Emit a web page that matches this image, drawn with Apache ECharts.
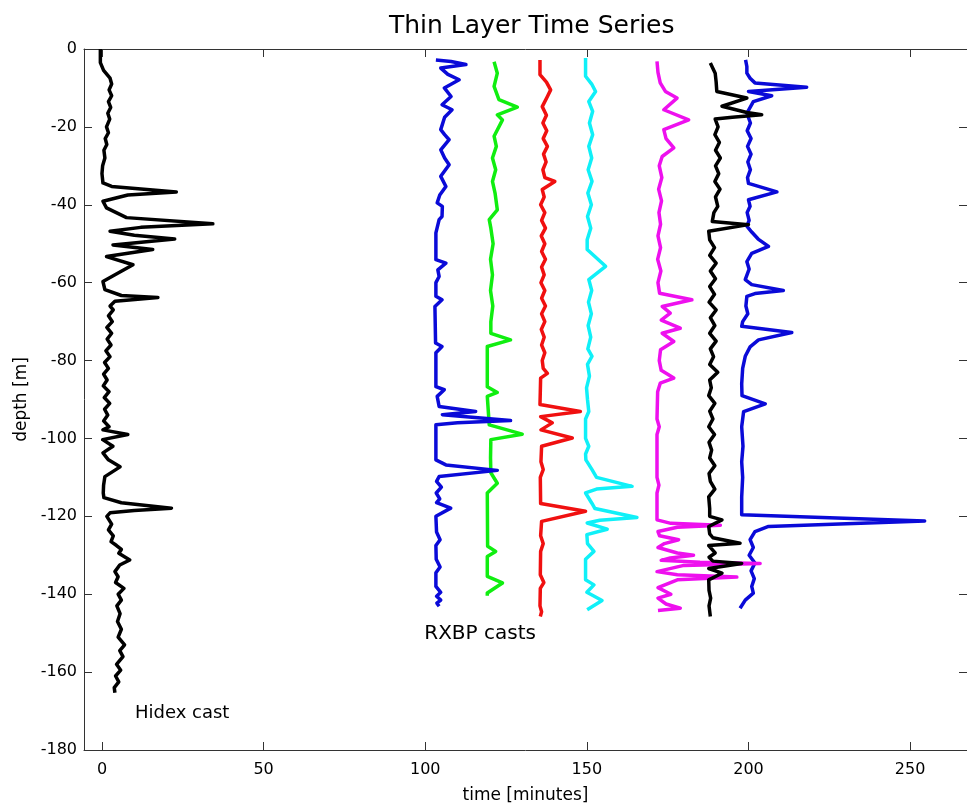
<!DOCTYPE html>
<html>
<head>
    <meta charset="utf-8">
    <title>Thin Layer Time Series</title>
    <script src="https://cdn.jsdelivr.net/npm/echarts@6/dist/echarts.min.js"></script>
    <style>
        html, body { margin: 0; padding: 0; background: #fff; }
        #main { width: 967px; height: 810px; }
    </style>
</head>
<body>
    <div id="main"></div>
    <script>
        // tick labels
        var timeTicks = [0, 50, 100, 150, 200, 250];

        // each cast: [time, depth]
        var hidexCast = [[-0.5,0],[-0.5,-3.5],[0.5,-5.5],[2.5,-7.5],[3.0,-9],[2.2,-10.5],[3.0,-12],[2.0,-13.5],[2.7,-15],[1.8,-16.5],[2.4,-18],[1.4,-20],[2.0,-21.5],[1.0,-23],[1.5,-24.5],[0.6,-26],[0.9,-28],[0.2,-30],[0.0,-32],[0.3,-34.4],[3,-35.3],[23,-36.7],[8,-37.5],[0.3,-39.1],[1.4,-40.8],[7.6,-43.3],[34.3,-44.9],[12,-45.8],[2.5,-46.8],[10,-47.8],[22.5,-48.8],[3.4,-50.3],[15.7,-51.5],[1.4,-53.3],[9.6,-55.4],[5,-57.5],[0.3,-59.7],[0.9,-61.8],[6,-63.3],[17.3,-63.8],[4,-64.8],[2.5,-66],[3.5,-67],[2,-68.5],[3.2,-70],[1.5,-71.5],[3,-73],[1.6,-74.5],[2.8,-76],[1.2,-77.5],[2.5,-79],[0.8,-80.5],[2,-82],[0.5,-83.5],[1.6,-85],[0.4,-86.5],[2.2,-88],[0.7,-89.5],[2.4,-91],[0.8,-92.5],[1.8,-94],[0.5,-95.5],[2.2,-97],[0.3,-97.8],[8,-99],[0.2,-100.3],[3.4,-102],[0.3,-103.7],[2,-105.5],[5.6,-107.3],[0.9,-109.8],[0.5,-112],[0.4,-114],[0.6,-115.2],[6,-116.5],[21.5,-117.9],[10,-118.5],[2.5,-119.1],[1.5,-120],[3,-122],[2,-123.5],[3.5,-125],[2.8,-126.5],[4.5,-127.5],[6,-128.5],[5.2,-129.5],[8.6,-131.2],[5.5,-132.5],[4,-134.2],[5,-135.5],[4.2,-137],[6.8,-138.5],[5,-140],[6,-141.5],[4.6,-143],[5.6,-145],[4.8,-147],[6,-149],[5,-151],[7,-153],[5.5,-154.5],[6.5,-156],[4.5,-158],[5.8,-159.5],[4.2,-161],[5.2,-162.5],[3.8,-164],[4,-165.3]];

        var rxbpBlue1 = [[103.3,-2.8],[108,-3.2],[112.6,-4],[104.8,-4.9],[107,-6.5],[110.5,-7.9],[105.9,-10],[108,-12.2],[105.2,-14.3],[108.3,-15.6],[106,-17.5],[104.8,-20.7],[106,-22],[107.4,-23.3],[104.8,-25.9],[106,-28],[107.4,-29.7],[104.8,-32.7],[106.4,-35.3],[104.5,-37.5],[103.7,-39.5],[105.3,-40.4],[105.2,-43],[104.3,-43.8],[103.3,-47.2],[103.3,-54.1],[106.4,-55],[103.9,-56.7],[104.3,-58.4],[103.3,-60],[103.3,-63.5],[105.2,-64.4],[103,-66.1],[103.2,-75.5],[105.2,-76.4],[103.3,-78],[103.3,-86.7],[105.9,-87.5],[103.7,-89.2],[104.3,-91.8],[115.6,-93.1],[105.3,-93.9],[126.4,-95.4],[110,-96],[103.3,-96.5],[103.3,-105.5],[106.4,-106.8],[122.3,-108.2],[104.3,-109.8],[103.5,-111],[105,-112.5],[103.4,-114],[104.5,-115.5],[103.5,-116.5],[107.9,-117.9],[103.3,-120],[103.5,-124],[104.6,-126],[103.3,-127.5],[103.4,-131],[104.6,-133],[103.3,-134.5],[103.3,-138],[104.8,-139.5],[103.5,-140.5],[104.8,-141.5],[103.6,-142.3],[104.3,-143.1]];

        var rxbpGreen = [[121.3,-3.3],[122.3,-6.2],[121.3,-9.6],[122.8,-13],[128.5,-14.9],[122.3,-16.9],[123.9,-18.2],[121.3,-22.4],[122,-25],[120.8,-28],[121.8,-31],[120.8,-34],[121.6,-37],[122.3,-41.3],[119.8,-43.8],[120.3,-46],[121,-50],[120.2,-54],[120.8,-58],[120.2,-62],[120.9,-66],[120.3,-70],[120.3,-73],[126.4,-74.7],[119.2,-76.4],[119.2,-86.7],[122.3,-88.2],[119.2,-89.2],[119.8,-96.5],[130,-98.9],[120.3,-100.3],[120.2,-105],[120.3,-108.8],[122.3,-111.5],[119.2,-114],[119.3,-127.7],[121.8,-129],[119.2,-130.3],[119.2,-135.4],[123.9,-137.1],[119.2,-139.7],[119.2,-140.4]];

        var rxbpRed = [[135.5,-2.8],[135.5,-6.6],[137.5,-8.5],[138.8,-10.5],[137.8,-12.2],[136.2,-14.8],[137.5,-17],[136.4,-19],[137.6,-21],[136.5,-23],[137.8,-25],[136.6,-27],[137.4,-29],[136.4,-31],[137,-33],[140.1,-34],[136.2,-36.1],[136.8,-38],[135.7,-40],[137,-42],[136,-44],[137.2,-46],[135.9,-48],[137,-50],[136,-52],[137.2,-54],[136,-56],[136.8,-58],[135.8,-60],[137,-62],[136,-64],[137.2,-66],[136,-68],[137,-70],[135.9,-72],[136.8,-74],[136,-76],[137,-78],[136.2,-80],[136.5,-82],[137.8,-83.3],[135.7,-84.5],[135.6,-88],[135.5,-91.3],[148,-93.1],[135.7,-94.4],[139.3,-96],[135.8,-97.8],[145.5,-99.9],[136,-102],[135.8,-106],[136.5,-108],[135.6,-110],[135.7,-116.7],[149.6,-118.7],[136,-121.3],[135.7,-125],[136.5,-127],[135.7,-129],[135.6,-135],[136.7,-137],[135.6,-138.5],[135.5,-143],[136,-144.5],[135.6,-145.7]];

        var rxbpCyan = [[149.6,-2.3],[149.6,-7],[151.5,-9],[152.7,-10.9],[150.6,-13.5],[151.8,-16],[150.8,-19],[151.8,-22],[150.6,-25],[151.5,-28],[150.4,-31],[151.6,-34],[150.3,-37],[151.4,-40],[150.2,-43],[151.2,-46],[150.1,-49],[150.1,-51.5],[155.8,-55.8],[150.6,-59.2],[151.5,-62],[150.5,-65],[151.4,-68],[150.4,-71],[151.2,-74],[150.3,-77],[151.6,-78.9],[150.2,-81],[150.8,-84],[149.9,-87],[150.2,-90],[150.6,-93.1],[149.6,-95],[149.6,-100],[150.6,-102],[149.6,-104],[149.7,-105.5],[151.6,-108],[153,-110],[164,-112.3],[153,-113],[149.6,-114],[151.6,-116.7],[152.5,-118],[165.5,-120.3],[154,-121],[150.1,-121.7],[156.3,-123.3],[150,-124.7],[150.2,-127],[152.2,-129],[149.6,-131],[149.6,-136.3],[152.2,-137.6],[150,-139.5],[154.7,-141.6],[150.1,-144]];

        var rxbpMagenta = [[171.7,-3.2],[172,-6],[172.7,-8.7],[174.3,-10.9],[177.9,-12.6],[173.8,-15.6],[181.5,-18.2],[173.8,-20.7],[174.5,-23],[176.9,-25.4],[173.3,-27.6],[172.4,-30],[173.2,-33],[172.2,-36],[173.1,-39],[172.3,-42],[172.8,-45],[172,-48],[172.8,-51],[171.9,-54],[172.9,-57],[172,-60],[172.5,-62.7],[182.5,-64.4],[173.3,-66.1],[175.8,-67.8],[173,-69.6],[178.9,-71.7],[173.3,-73],[176.9,-75.1],[172.8,-77.2],[172.4,-80],[173,-82.5],[176.9,-84.5],[172.7,-85.8],[171.9,-88],[171.7,-95],[172.4,-97],[171.7,-99],[171.7,-110],[172.3,-112],[171.7,-114],[171.7,-120.9],[176,-121.8],[191.3,-122.3],[178,-122.8],[172,-123.9],[172.5,-125],[178.4,-126],[174,-127],[172,-128],[178,-129.4],[183,-130],[175.8,-130.7],[173,-131.3],[185,-131.8],[203.6,-132.1],[180,-132.6],[171.7,-134.2],[178,-135],[196.4,-135.6],[178,-136.3],[172,-138.3],[176,-140],[172,-141],[174.5,-142.5],[178.9,-143.6],[172,-144.2]];

        var rxbpBlack = [[188.2,-3.6],[189.7,-6.2],[190,-8.5],[190.2,-10.9],[199.5,-12.6],[191.8,-14.7],[199.5,-16.3],[204.1,-16.9],[195,-17.5],[189.7,-18],[190.6,-20],[189.6,-22],[191,-24],[189.8,-26],[191.3,-28],[189.8,-30],[190.8,-32],[189.6,-34],[191.2,-36],[189.8,-38],[190.5,-40.4],[189.3,-42],[188.8,-44.3],[200,-45.1],[187.7,-46.8],[188,-49],[189.5,-51],[188,-53],[190,-55],[188.2,-57],[189.8,-59],[188,-61],[189.5,-63],[187.8,-65],[190,-67],[188.2,-69],[189.6,-71],[188,-73],[190,-75],[188.2,-77],[189.2,-79],[188,-81],[190.5,-83],[188,-85],[188.5,-87],[187.7,-89],[189.6,-91],[188,-93],[189,-95],[187.7,-97],[189.5,-99],[187.8,-101],[188.6,-103],[188,-105],[189.6,-107],[187.8,-109],[188.2,-111],[189.6,-113],[187.7,-115],[188,-118],[188,-120],[191.8,-120.9],[187.7,-122.6],[188,-124.5],[189,-125.5],[197.4,-126.9],[187.7,-127.5],[189.7,-129.4],[187.8,-130.5],[189,-131.5],[197.9,-132.1],[187.7,-133.4],[191.8,-134.6],[187.7,-136.3],[187.8,-139],[188.3,-141],[187.8,-143],[188.2,-145.7]];

        var rxbpBlue2 = [[199.1,-2.8],[199.5,-4.5],[199.5,-6.2],[200.5,-7.5],[202,-8.7],[218,-9.8],[200,-10.9],[207.2,-12],[201.5,-13.5],[199.5,-16.5],[200.6,-19],[199.6,-21],[200.8,-23],[199.7,-25],[200.8,-27],[199.8,-29],[200.6,-31],[199.7,-33],[200,-34.5],[208.8,-36.7],[200,-38.7],[200.5,-40.4],[199.6,-42],[200.2,-44],[199.5,-45.5],[201,-47],[203,-48.8],[206.2,-50.7],[201,-52.5],[199.5,-54.6],[200.2,-56.5],[199,-59.2],[201,-60.5],[210.8,-62],[202,-62.8],[199.5,-63.5],[199.2,-66],[199.8,-68],[198.2,-70],[197.9,-71.2],[213.4,-72.8],[203.1,-74.7],[200.5,-76.5],[199,-78.9],[198.2,-82],[197.9,-86],[198,-89],[205.2,-91.1],[198.5,-93.1],[197.9,-97],[198.3,-102],[197.9,-106],[198.2,-110],[197.9,-115],[197.9,-119.6],[254.5,-121.2],[206.2,-122.6],[202,-123.9],[200.5,-126],[201.5,-128],[200.2,-130],[202,-132],[200.8,-134],[201.8,-136],[201,-138],[201.5,-139.7],[199,-141.5],[197.4,-143.6]];

        // annotations: [time, depth, text]
        var notes = [[10.2, -170.5, 'Hidex cast'], [99.7, -150.2, 'RXBP casts']];

        var font = 'DejaVu Sans';
        var chart = echarts.init(document.getElementById('main'), null, {renderer: 'canvas'});

        function cast(data, color) {
            return {
                type: 'line',
                data: data,
                showSymbol: false,
                symbol: 'none',
                silent: true,
                lineStyle: {color: color, width: 3.5, join: 'round'}
            };
        }

        var frameLine = {show: true, onZero: false, lineStyle: {color: '#333', width: 1}};

        var option = {
            animation: false,
            backgroundColor: '#fff',
            title: {
                text: 'Thin Layer Time Series',
                left: 384,
                top: 9,
                textStyle: {fontFamily: font, fontSize: 25, fontWeight: 'normal', color: '#000'}
            },
            grid: {left: 84, top: 49, width: 885, height: 701, show: false},
            xAxis: [{
                type: 'value',
                min: -5.56,
                max: 267.6,
                position: 'bottom',
                name: 'time [minutes]',
                nameLocation: 'middle',
                nameGap: 37,
                nameTextStyle: {fontFamily: font, fontSize: 17, color: '#000'},
                axisLine: frameLine,
                axisTick: {show: true, inside: true, length: 8, customValues: timeTicks, lineStyle: {color: '#333'}},
                axisLabel: {customValues: timeTicks, fontFamily: font, fontSize: 16, color: '#000', margin: 12},
                splitLine: {show: false}
            }, {
                type: 'value',
                min: -5.56,
                max: 267.6,
                position: 'top',
                axisLine: frameLine,
                axisTick: {show: true, inside: true, length: 8, customValues: timeTicks, lineStyle: {color: '#333'}},
                axisLabel: {show: false},
                splitLine: {show: false}
            }],
            yAxis: [{
                type: 'value',
                min: -180,
                max: 0,
                interval: 20,
                name: 'depth [m]',
                nameLocation: 'middle',
                nameGap: 52,
                nameRotate: 90,
                nameTextStyle: {fontFamily: font, fontSize: 17, color: '#000'},
                axisLine: frameLine,
                axisTick: {show: true, inside: true, length: 8, lineStyle: {color: '#333'}},
                axisLabel: {fontFamily: font, fontSize: 16, color: '#000', margin: 7},
                splitLine: {show: false}
            }, {
                type: 'value',
                min: -180,
                max: 0,
                interval: 20,
                position: 'right',
                axisLine: frameLine,
                axisTick: {show: true, inside: true, length: 8, lineStyle: {color: '#333'}},
                axisLabel: {show: false},
                splitLine: {show: false}
            }],
            series: [
                cast(hidexCast, '#000000'),
                cast(rxbpGreen, '#10ee10'),
                cast(rxbpBlue1, '#0a0ad8'),
                cast(rxbpRed, '#f01010'),
                cast(rxbpCyan, '#10f0f8'),
                cast(rxbpBlue2, '#0a0ad8'),
                cast(rxbpMagenta, '#ee10ee'),
                cast(rxbpBlack, '#000000'),
                {
                    type: 'scatter',
                    symbolSize: 0,
                    silent: true,
                    z: 5,
                    itemStyle: {opacity: 1},
                    data: notes.map(function (n, i) {
                        return {
                            value: [n[0], n[1]],
                            label: {fontSize: i === 0 ? 18 : 20, color: '#000', opacity: 1, fontFamily: font}
                        };
                    }),
                    label: {
                        show: true,
                        position: 'right',
                        distance: 0,
                        fontFamily: font,
                        color: '#000',
                        opacity: 1,
                        formatter: function (p) { return notes[p.dataIndex][2]; }
                    }
                }
            ]
        };

        chart.setOption(option);
    </script>
</body>
</html>
